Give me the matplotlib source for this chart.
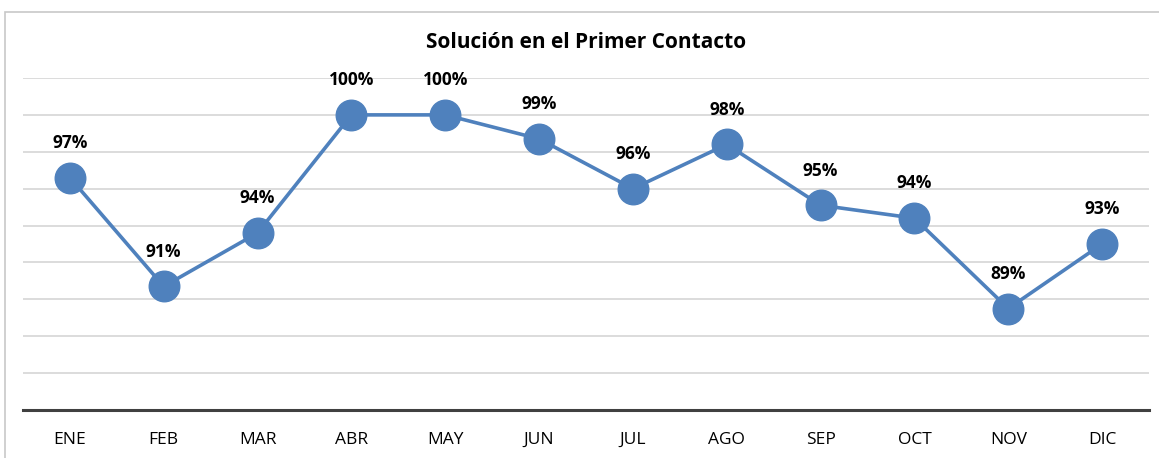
import matplotlib.pyplot as plt
from matplotlib.patches import Rectangle

meses = ['ENE', 'FEB', 'MAR', 'ABR', 'MAY', 'JUN', 'JUL', 'AGO', 'SEP', 'OCT', 'NOV', 'DIC']
valores = [96.6, 90.7, 93.6, 100.0, 100.0, 98.7, 96.0, 98.4, 95.1, 94.4, 89.5, 93.0]
etiquetas = ['97%', '91%', '94%', '100%', '100%', '99%', '96%', '98%', '95%', '94%', '89%', '93%']

plt.rcParams['font.family'] = ['Open Sans', 'DejaVu Sans']

fig = plt.figure(figsize=(11.59, 4.58), dpi=100)
ax = fig.add_axes([0.0198, 0.1048, 0.9716, 0.7249])

# marco del grafico
fig.patches.append(Rectangle((5 / 1159, -0.01), 1.2, 1 - 12 / 458 + 0.01,
                             transform=fig.transFigure, fill=False,
                             edgecolor='#c8c8c8', linewidth=1.2))

x = list(range(len(meses)))
ax.plot(x, valores, color='#4f81bd', linewidth=2.6, marker='o',
        markersize=22, zorder=3)

for xi, v, t in zip(x, valores, etiquetas):
    ax.annotate(t, (xi, v), xytext=(0, 25), textcoords='offset points',
                ha='center', va='center', fontsize=12.5, fontweight='bold')

ax.set_xlim(-0.5, len(meses) - 0.5)
ax.set_ylim(84, 102)
ax.set_yticks(range(84, 103, 2))
ax.set_yticklabels([])
ax.tick_params(axis='y', length=0)
ax.grid(axis='y', color='#d9d9d9', linewidth=1.3)
ax.set_axisbelow(True)

ax.set_xticks(x)
ax.set_xticklabels(meses, fontsize=12.5)
ax.tick_params(axis='x', length=0, pad=16)

for s in ['top', 'right', 'left']:
    ax.spines[s].set_visible(False)
ax.spines['bottom'].set_color('#404040')
ax.spines['bottom'].set_linewidth(2.2)

fig.text(586 / 1159, 1 - 43 / 458, 'Solución en el Primer Contacto', ha='center', va='center',
         fontsize=15, fontweight='bold')

fig.savefig('out.png', dpi=100)
